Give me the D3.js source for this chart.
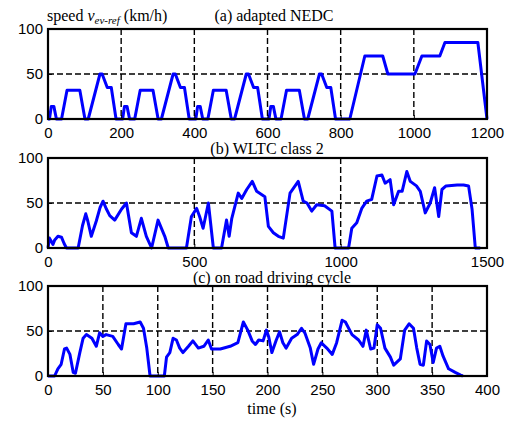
<!DOCTYPE html>
<html lang="en">
  <head>
    <meta charset="UTF-8" />
    <title>speed cycles</title>
    <style>
      body { margin: 0; background: #fff; }
    </style>
  </head>
  <body>
    <div class="chart"></div>
    <script src="https://d3js.org/d3.v7.min.js"></script>
    <script>
      // (a) adapted NEDC
      const nedcTime = [
        0, 4, 9, 16, 23, 37, 52, 87, 101, 110, 142, 148, 162, 173, 186,
        200, 204, 209, 216, 223, 237, 252, 287, 301, 310, 342, 348, 362, 373, 386,
        400, 404, 409, 416, 423, 437, 452, 487, 501, 510, 542, 548, 562, 573, 586,
        600, 604, 609, 616, 623, 637, 652, 687, 701, 710, 742, 748, 762, 773, 786,
        825, 866, 915, 929, 1003, 1022, 1071, 1085, 1175, 1200,
      ];
      const nedcSpeed = [
        0, 0, 14, 14, 0, 0, 32, 32, 0, 0, 50, 50, 35, 35, 0,
        0, 0, 14, 14, 0, 0, 32, 32, 0, 0, 50, 50, 35, 35, 0,
        0, 0, 14, 14, 0, 0, 32, 32, 0, 0, 50, 50, 35, 35, 0,
        0, 0, 14, 14, 0, 0, 32, 32, 0, 0, 50, 50, 35, 35, 0,
        0, 70, 70, 50, 50, 70, 70, 85, 85, 0,
      ];

      // (b) WLTC class 2
      const wltcTime = [
        0, 5, 10, 17, 23, 34, 46, 55, 63, 103, 118, 129, 136, 148, 165, 178, 188,
        200, 211, 228, 251, 268, 285, 302, 319, 336, 354, 376, 399, 411, 473,
        490, 508, 518, 530, 548, 565, 593, 610, 619, 628, 650, 662, 679, 698,
        713, 741, 753, 770, 787, 804, 827, 855, 872, 885, 901, 918, 945, 970,
        981, 1027, 1038, 1055, 1072, 1089, 1106, 1124, 1141, 1152, 1169, 1181,
        1198, 1210, 1226, 1238, 1259, 1272, 1289, 1306, 1321, 1335, 1346, 1360,
        1398, 1420, 1437, 1449, 1460, 1477,
      ];
      const wltcSpeed = [
        0, 11, 8, 4, 9, 13, 12, 5, 0, 0, 25, 38, 30, 13, 30, 45, 52,
        43, 36, 31, 43, 50, 17, 13, 33, 13, 0, 31, 13, 0, 0,
        35, 44, 35, 22, 50, 0, 0, 31, 13, 33, 61, 55, 65, 74,
        63, 57, 24, 17, 13, 11, 61, 74, 52, 50, 41, 48, 47, 41,
        0, 0, 22, 28, 44, 52, 54, 80, 81, 72, 76, 48,
        63, 63, 85, 74, 69, 63, 39, 50, 67, 35, 65, 69,
        70, 70, 69, 43, 0, 0,
      ];

      // (c) on road driving cycle
      const roadTime = [
        0, 6, 9, 12, 15, 17, 20, 23, 25, 29, 32, 35, 40, 44, 47, 50, 53, 59, 64,
        67, 71, 78, 84, 87, 90, 93, 106, 108, 111, 114, 117, 120, 123, 128, 132,
        137, 142, 146, 149, 157, 166, 173, 178, 182, 186, 189, 192, 196, 199,
        201, 204, 208, 211, 214, 217, 222, 227, 231, 234, 239, 242, 246, 249,
        254, 259, 263, 268, 271, 277, 283, 287, 290, 294, 297, 300, 303, 307,
        312, 315, 321, 325, 329, 333, 336, 339, 342, 345, 348, 351, 354, 357,
        360, 365, 371, 376, 378,
      ];
      const roadSpeed = [
        0, 0, 8, 13, 30, 31, 24, 4, 3, 26, 42, 46, 42, 33, 48, 44, 46, 44, 35,
        30, 58, 58, 60, 53, 31, 0, 0, 21, 26, 42, 40, 31, 26, 33, 39,
        31, 33, 40, 30, 30, 33, 37, 60, 51, 39, 35, 40, 39, 51,
        44, 26, 40, 49, 37, 31, 42, 46, 53, 48, 31, 13, 30, 37,
        31, 24, 37, 62, 60, 46, 40, 33, 51, 30, 31, 57, 53, 31,
        21, 12, 19, 51, 58, 53, 31, 13, 12, 39, 35, 15, 31, 33,
        22, 8, 4, 1, 0,
      ];

      const yTicks = [0, 50, 100];

      const panels = [
        { time: nedcTime, speed: nedcSpeed, xMax: 1200, xTicks: [0, 200, 400, 600, 800, 1000, 1200], top: 29,
          title: "(a) adapted NEDC", titleX: 274, titleY: 21 },
        { time: wltcTime, speed: wltcSpeed, xMax: 1500, xTicks: [0, 500, 1000, 1500], top: 158,
          title: "(b) WLTC class 2", titleX: 267, titleY: 154 },
        { time: roadTime, speed: roadSpeed, xMax: 400, xTicks: [0, 50, 100, 150, 200, 250, 300, 350, 400], top: 286,
          title: "(c) on road driving cycle", titleX: 272, titleY: 283 },
      ];

      const width = 526;
      const height = 423;
      const left = 48;
      const right = 487;
      const plotH = 90;
      const serif = "'Liberation Serif', 'Times New Roman', serif";
      const sans = "'Liberation Sans', Arial, sans-serif";

      const svg = d3
        .select(".chart")
        .append("svg")
        .attr("width", width)
        .attr("height", height);

      panels.forEach((p) => {
        const x = d3.scaleLinear().domain([0, p.xMax]).range([left, right]);
        const y = d3.scaleLinear().domain([0, 100]).range([p.top + plotH, p.top]);
        const g = svg.append("g");

        // 標題
        g.append("text")
          .attr("x", p.titleX)
          .attr("y", p.titleY)
          .attr("text-anchor", "middle")
          .style("font-family", serif)
          .style("font-size", "16px")
          .text(p.title);

        // 格線
        g.append("g")
          .selectAll("line")
          .data(p.xTicks.slice(1, -1))
          .join("line")
          .attr("x1", (d) => x(d))
          .attr("x2", (d) => x(d))
          .attr("y1", p.top)
          .attr("y2", p.top + plotH)
          .attr("stroke", "#000")
          .attr("stroke-width", 1.4)
          .attr("stroke-dasharray", "6,3");
        g.append("g")
          .selectAll("line")
          .data(yTicks)
          .join("line")
          .attr("x1", left)
          .attr("x2", right)
          .attr("y1", (d) => y(d))
          .attr("y2", (d) => y(d))
          .attr("stroke", "#000")
          .attr("stroke-width", 1.4)
          .attr("stroke-dasharray", "6,3");

        // 速度曲線
        const pts = p.time.map((t, i) => [t, p.speed[i]]);
        g.append("path")
          .datum(pts)
          .attr("fill", "none")
          .attr("stroke", "#0000ff")
          .attr("stroke-width", 3)
          .attr("stroke-linejoin", "round")
          .attr("d", d3.line().x((d) => x(d[0])).y((d) => y(d[1])));

        // 外框
        g.append("rect")
          .attr("x", left)
          .attr("y", p.top)
          .attr("width", right - left)
          .attr("height", plotH)
          .attr("fill", "none")
          .attr("stroke", "#000")
          .attr("stroke-width", 2.2);

        // 座標軸
        const xAxis = g
          .append("g")
          .attr("transform", `translate(0,${p.top + plotH})`)
          .call(d3.axisBottom(x).tickValues(p.xTicks).tickSize(-4).tickPadding(8).tickFormat(d3.format("d")));
        const yAxis = g
          .append("g")
          .attr("transform", `translate(${left},0)`)
          .call(d3.axisLeft(y).tickValues(yTicks).tickSize(-4).tickPadding(5));
        [xAxis, yAxis].forEach((a) => {
          a.select(".domain").remove();
          a.selectAll("line").attr("stroke", "#000");
          a.selectAll("text")
            .attr("fill", "#000")
            .style("font-family", sans)
            .style("font-size", "15px");
        });
      });

      // y 軸標籤
      const yl = svg
        .append("text")
        .attr("x", 47)
        .attr("y", 21)
        .style("font-family", serif)
        .style("font-size", "16px");
      yl.append("tspan").text("speed ");
      yl.append("tspan").style("font-style", "italic").text("v");
      yl.append("tspan")
        .style("font-style", "italic")
        .style("font-size", "11px")
        .attr("dy", 3)
        .text("ev-ref");
      yl.append("tspan").attr("dy", -3).text(" (km/h)");

      // x 軸標籤
      svg
        .append("text")
        .attr("x", 272)
        .attr("y", 414)
        .attr("text-anchor", "middle")
        .style("font-family", serif)
        .style("font-size", "16px")
        .text("time (s)");
    </script>
  </body>
</html>
